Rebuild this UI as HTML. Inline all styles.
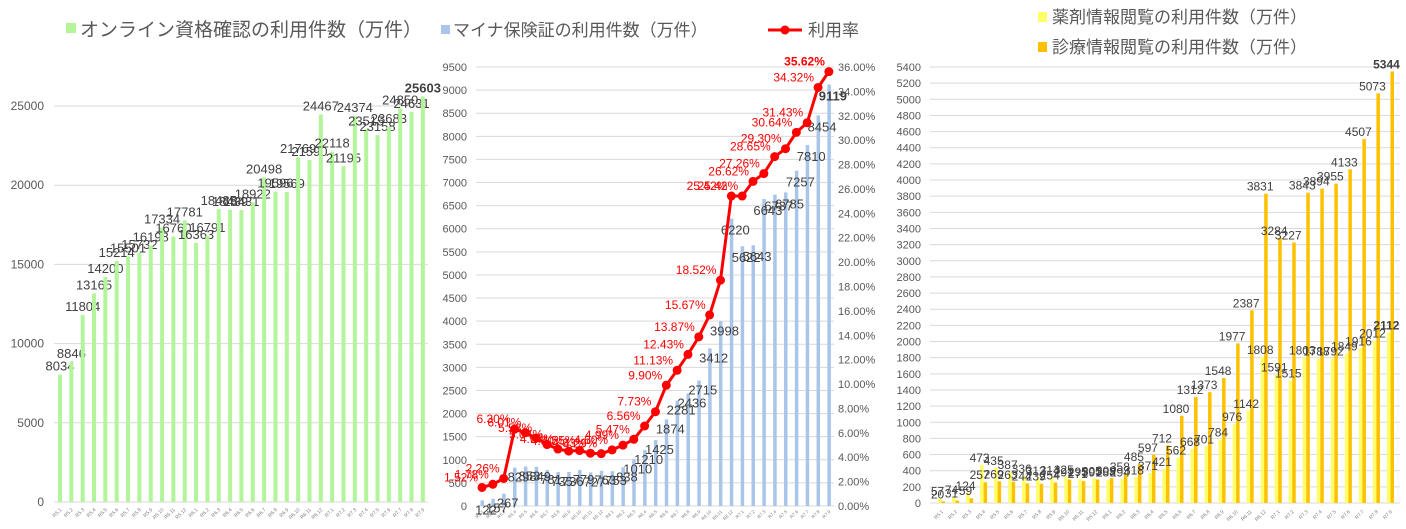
<!DOCTYPE html>
<html><head><meta charset="utf-8">
<style>
html,body{margin:0;padding:0;background:#fff;}
svg{display:block;font-family:"Liberation Sans","Noto Sans CJK JP",sans-serif;}
</style></head>
<body>
<svg id="chart" width="1406" height="529" viewBox="0 0 1406 529" xmlns="http://www.w3.org/2000/svg">
  <g>
    <rect x="66" y="23" width="10" height="10" fill="#b3f59a"/>
    <text x="80" y="36" font-size="19" fill="#595959">オンライン資格確認の利用件数（万件）</text>
  </g>
  <g>
    <rect x="441" y="25" width="9" height="9" fill="#a9c6ea"/>
    <text x="453" y="36" font-size="17" fill="#595959">マイナ保険証の利用件数（万件）</text>
    <line x1="768" y1="30" x2="802" y2="30" stroke="#ff0000" stroke-width="3"/>
    <circle cx="785" cy="30" r="4.5" fill="#ff0000"/>
    <text x="808" y="36" font-size="17" fill="#595959">利用率</text>
  </g>
  <g>
    <rect x="1038" y="12" width="9" height="10" fill="#ffff66"/>
    <text x="1052" y="23" font-size="17" fill="#595959">薬剤情報閲覧の利用件数（万件）</text>
    <rect x="1038" y="42" width="9" height="10" fill="#ffc000"/>
    <text x="1052" y="53" font-size="17" fill="#595959">診療情報閲覧の利用件数（万件）</text>
  </g>
</svg>
<script>
const months = ["R5.1","R5.2","R5.3","R5.4","R5.5","R5.6","R5.7","R5.8","R5.9","R5.10","R5.11","R5.12","R6.1","R6.2","R6.3","R6.4","R6.5","R6.6","R6.7","R6.8","R6.9","R6.10","R6.11","R6.12","R7.1","R7.2","R7.3","R7.4","R7.5","R7.6","R7.7","R7.8","R7.9"];
const onlineValues = [8034,8846,11804,13165,14200,15214,15501,15732,16198,17334,16760,17781,16363,16791,18485,18439,18431,18922,20498,19596,19569,21769,21590,24467,22118,21195,24374,23515,23158,23683,24850,24631,25603];
const mynaValues = [122,157,267,829,853,849,781,735,736,779,727,763,753,838,1010,1210,1425,1874,2281,2436,2715,3412,3998,6220,5622,5643,6643,6737,6785,7257,7810,8454,9119];
const rateValues = [1.52,1.78,2.26,6.30,6.01,5.58,5.04,4.67,4.50,4.55,4.33,4.29,4.60,4.99,5.47,6.56,7.73,9.90,11.13,12.43,13.87,15.67,18.52,25.42,25.42,26.62,27.26,28.65,29.30,30.64,31.43,34.32,35.62];
const drugValues = [57,74,124,473,435,387,336,312,314,325,295,305,288,294,318,371,421,562,668,701,784,976,1142,1808,1591,1515,1803,1788,1792,1849,1916,2012,2112];
const medValues = [20,31,59,257,269,263,244,239,254,291,271,291,309,358,485,597,712,1080,1312,1373,1548,1977,2387,3831,3284,3227,3843,3894,3955,4133,4507,5073,5344];
const onlineTicks = [0,5000,10000,15000,20000,25000];
const mynaTicks = [0,500,1000,1500,2000,2500,3000,3500,4000,4500,5000,5500,6000,6500,7000,7500,8000,8500,9000,9500];
const rateTicks = [0,2,4,6,8,10,12,14,16,18,20,22,24,26,28,30,32,34,36];
const infoTicks = [];
for (let v = 0; v <= 5400; v += 200) infoTicks.push(v);

const NS = "http://www.w3.org/2000/svg";
const svg = document.getElementById("chart");
function mk(tag, attrs, parent) {
  const e = document.createElementNS(NS, tag);
  for (const k in attrs) e.setAttribute(k, attrs[k]);
  (parent || svg).appendChild(e);
  return e;
}
function lin(d0, d1, r0, r1) { return v => r0 + (v - d0) * (r1 - r0) / (d1 - d0); }

// ---------- Panel 1 ----------
const p1 = mk("g", {});


const y1 = lin(0, 25000, 502, 106);
const x1 = i => 60 + i * 11.34;
onlineTicks.forEach(t => {
  const g = mk("line", {x1: 54, x2: 428, y1: y1(t), y2: y1(t), stroke: "#d9d9d9", "stroke-width": 1}, p1);
  
  
  const l = mk("text", {x: 44, y: y1(t) + 4, "font-size": 12, fill: "#595959", "text-anchor": "end"}, p1);
  l.textContent = t;
  
  
});
onlineValues.forEach((v, i) => {
  const b = mk("rect", {x: x1(i) - 2, y: y1(v), width: 4, height: y1(0) - y1(v), fill: "#b3f59a"}, p1);
  
  
  const t = mk("text", {x: x1(i), y: y1(v) - 4, "font-size": 13, fill: "#404040", "text-anchor": "middle", "font-weight": i === 32 ? "bold" : "normal"}, p1);
  t.textContent = v;
  
  
  const m = mk("text", {transform: `translate(${x1(i) + 2},510) rotate(-45)`, "font-size": 5, fill: "#808080", "text-anchor": "end"}, p1);
  m.textContent = months[i];
  
  
});

// ---------- Panel 2 ----------
const p2 = mk("g", {});


const y2 = lin(0, 9500, 506, 67);
const yr = lin(0, 36, 506, 67);
const x2 = i => 482 + i * 10.84;
mynaTicks.forEach(t => {
  const g = mk("line", {x1: 476, x2: 834, y1: y2(t), y2: y2(t), stroke: "#d9d9d9", "stroke-width": 1}, p2);
  
  
  const l = mk("text", {x: 467, y: y2(t) + 4, "font-size": 11, fill: "#595959", "text-anchor": "end"}, p2);
  l.textContent = t;
  
  
});
rateTicks.forEach(t => {
  const l = mk("text", {x: 838, y: yr(t) + 4, "font-size": 11, fill: "#595959"}, p2);
  l.textContent = t.toFixed(2) + "%";
  
  
});
mynaValues.forEach((v, i) => {
  const b = mk("rect", {x: x2(i) - 1.5, y: y2(v), width: 3.5, height: y2(0) - y2(v), fill: "#a9c6ea"}, p2);
  
  
  const m = mk("text", {transform: `translate(${x2(i) + 2},512) rotate(-45)`, "font-size": 4.5, fill: "#808080", "text-anchor": "end"}, p2);
  m.textContent = months[i];
  
  
});
mynaValues.forEach((v, i) => {
  const t = mk("text", {x: x2(i) + 4, y: y2(v) + (i < 23 ? 14 : 16), "font-size": 13, fill: "#404040", "text-anchor": "middle", "font-weight": i === 32 ? "bold" : "normal"}, p2);
  t.textContent = v;
  
  
});
const pts = rateValues.map((v, i) => x2(i) + "," + yr(v)).join(" ");
const line = mk("polyline", {points: pts, fill: "none", stroke: "#ff0000", "stroke-width": 3, "stroke-linejoin": "round"}, p2);


rateValues.forEach((v, i) => {
  const c = mk("circle", {cx: x2(i), cy: yr(v), r: 4.5, fill: "#ff0000"}, p2);
  
  
  const t = mk("text", {x: x2(i) - 4, y: yr(v) - 6, "font-size": 12, fill: "#ff0000", "text-anchor": "end", "font-weight": i === 32 ? "bold" : "normal"}, p2);
  t.textContent = v.toFixed(2) + "%";
  
  
});

// ---------- Panel 3 ----------
const p3 = mk("g", {});


const y3 = lin(0, 5400, 503, 67);
const x3 = i => 941.5 + i * 14.03;
infoTicks.forEach(t => {
  const g = mk("line", {x1: 930, x2: 1400, y1: y3(t), y2: y3(t), stroke: "#d9d9d9", "stroke-width": 1}, p3);
  
  
  const l = mk("text", {x: 921, y: y3(t) + 4, "font-size": 11, fill: "#595959", "text-anchor": "end"}, p3);
  l.textContent = t;
  
  
});
drugValues.forEach((v, i) => {
  const b = mk("rect", {x: x3(i) - 3.5, y: y3(v), width: 3.5, height: y3(0) - y3(v), fill: "#ffff66"}, p3);
  
  
  const m = mk("text", {transform: `translate(${x3(i) + 2},512) rotate(-45)`, "font-size": 5, fill: "#808080", "text-anchor": "end"}, p3);
  m.textContent = months[i];
  
  
});
medValues.forEach((v, i) => {
  const b = mk("rect", {x: x3(i), y: y3(v), width: 3.5, height: y3(0) - y3(v), fill: "#ffc000"}, p3);
  
  
});
drugValues.forEach((v, i) => {
  const t = mk("text", {x: x3(i) - 4, y: y3(v) - 3, "font-size": 12, fill: "#404040", "text-anchor": "middle", "font-weight": i === 32 ? "bold" : "normal"}, p3);
  t.textContent = v;
  
  
});
medValues.forEach((v, i) => {
  const t = mk("text", {x: x3(i) - 4, y: y3(v) - 3, "font-size": 12, fill: "#404040", "text-anchor": "middle", "font-weight": i === 32 ? "bold" : "normal"}, p3);
  t.textContent = v;
  
  
});
</script>
</body></html>
